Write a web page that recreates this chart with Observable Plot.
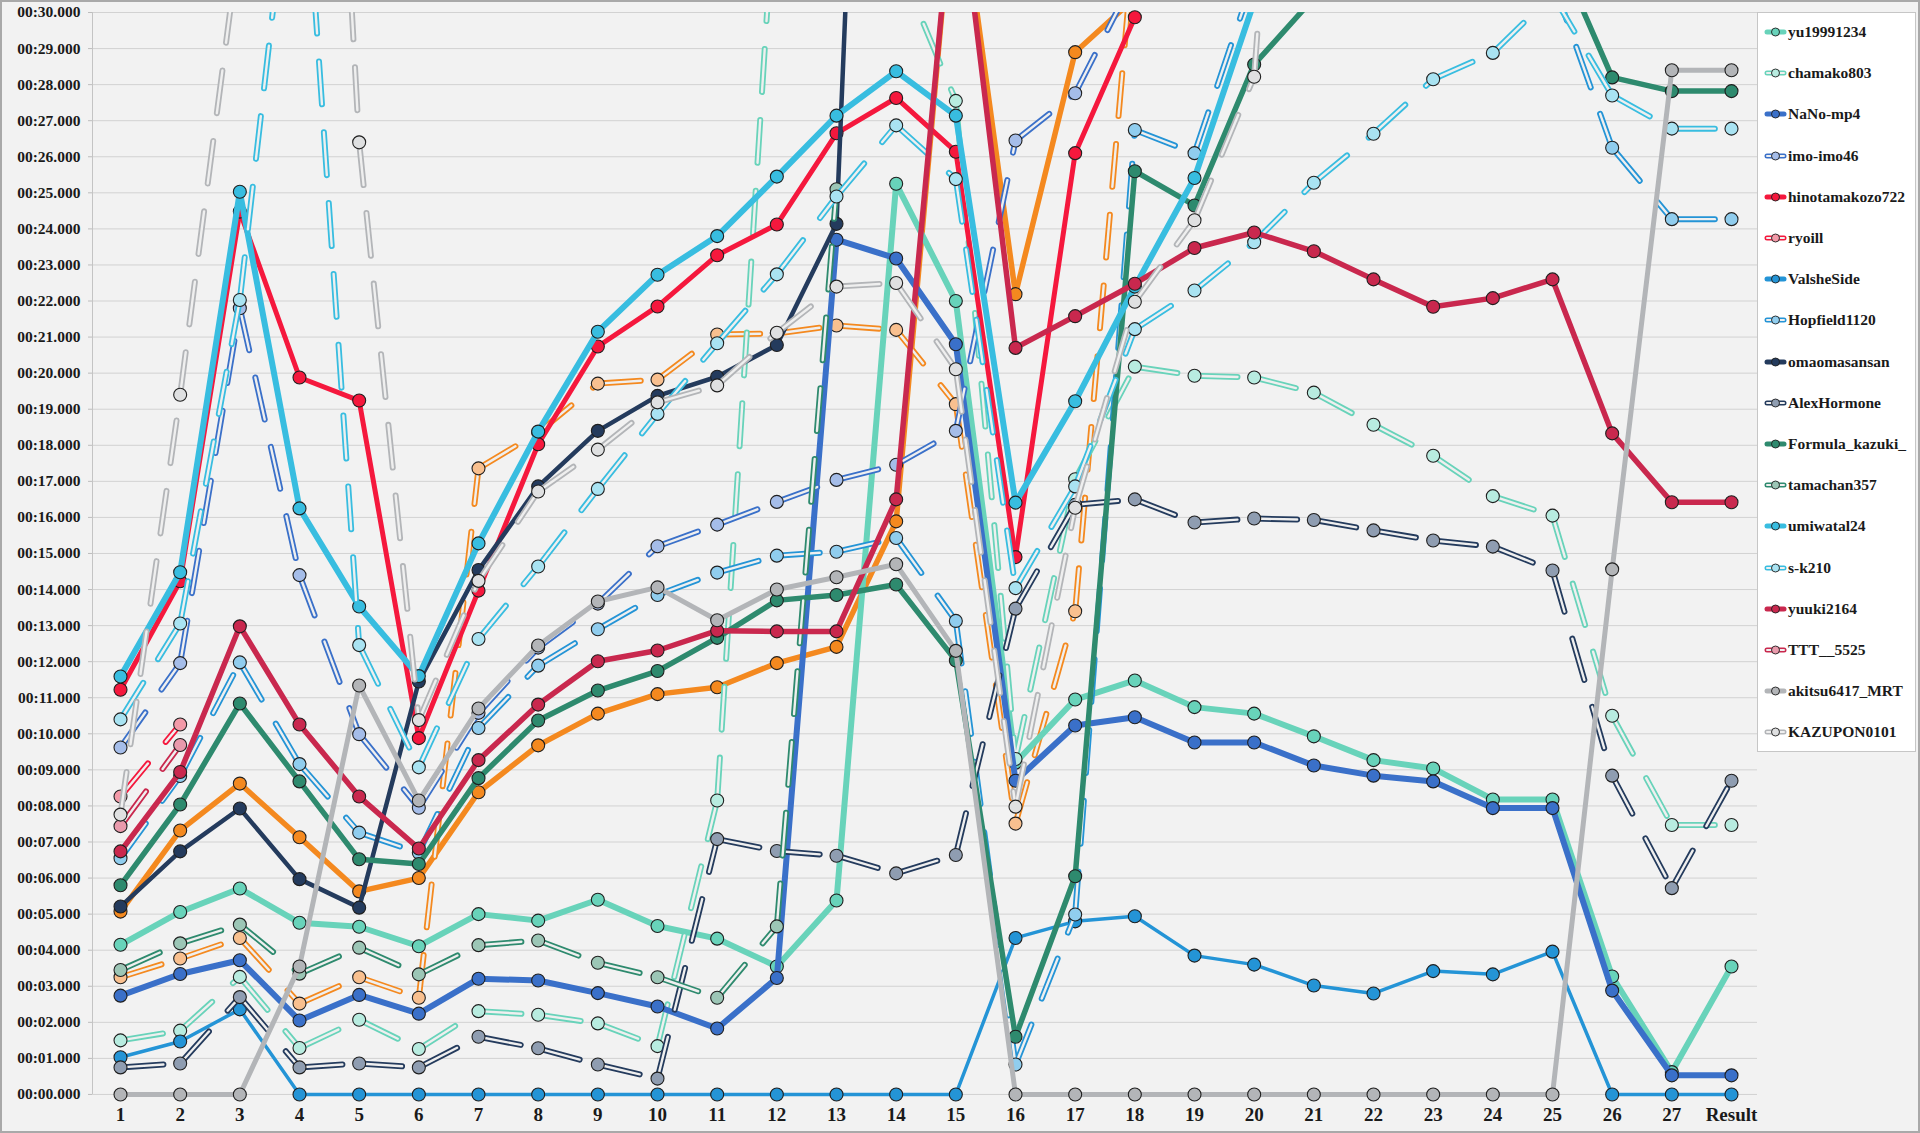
<!DOCTYPE html>
<html><head><meta charset="utf-8">
<script src="https://cdn.jsdelivr.net/npm/d3@7"></script>
<script src="https://cdn.jsdelivr.net/npm/@observablehq/plot@0.6"></script>
<style>
html,body{margin:0;padding:0;background:#f2f2f2;}
#wrap{position:relative;width:1920px;height:1133px;overflow:hidden;background:#f2f2f2;}
#frame{position:absolute;left:0;top:0;width:1920px;height:1133px;box-sizing:border-box;border:2px solid #a9a9a9;pointer-events:none;}
#legend{position:absolute;left:1757px;top:12px;width:159px;height:740px;box-sizing:border-box;background:#ffffff;border:1px solid #c6c6c6;font-family:"Liberation Serif",serif;font-weight:bold;font-size:15.5px;color:#1a1a1a;}
.item{position:absolute;left:5px;height:20px;display:flex;align-items:center;white-space:nowrap;}
g[aria-label="sline"], g[aria-label="hout"]{filter:drop-shadow(1.5px 2px 1.5px rgba(0,0,0,0.22));}
</style></head><body>
<div id="wrap"><div id="chart"></div><div id="legend"></div><div id="frame"></div></div>
<script>
const splits = ["1","2","3","4","5","6","7","8","9","10","11","12","13","14","15","16","17","18","19","20","21","22","23","24","25","26","27","Result"];
const yTicks = [0,1,2,3,4,5,6,7,8,9,10,11,12,13,14,15,16,17,18,19,20,21,22,23,24,25,26,27,28,29,30];

// seconds, per split (values above 30 run off the top of the chart)
const yu19991234      = [4.15,5.06,5.71,4.76,4.65,4.11,5.00,4.82,5.40,4.67,4.32,3.55,5.38,25.25,22.00,9.20,10.95,11.48,10.74,10.56,9.93,9.27,9.04,8.18,8.18,3.27,0.62,3.55];
const chamako803      = [1.50,1.77,3.26,1.29,2.07,1.26,2.31,2.21,1.97,1.34,8.15,34.3,33.0,31.5,27.55,9.30,17.06,20.18,19.93,19.88,19.46,18.57,17.71,16.59,16.05,10.50,7.47,7.47];
const NaNo_mp4        = [2.74,3.34,3.72,2.05,2.76,2.24,3.21,3.16,2.81,2.44,1.83,3.23,23.70,23.18,20.80,8.70,10.23,10.46,9.76,9.76,9.12,8.84,8.68,7.94,7.94,2.88,0.53,0.53];
const imo_imo46       = [9.62,11.96,21.80,14.40,9.99,7.95,10.58,12.39,13.61,15.20,15.80,16.43,17.04,17.46,18.40,26.45,27.76,31.0,38,40,40,40,40,40,40,40,40,40];
const hinotamakozo722 = [11.22,14.23,24.48,19.88,19.24,9.88,13.97,18.03,20.74,21.85,23.27,24.12,26.65,27.63,26.14,14.90,26.10,29.87,36,40,40,40,40,40,40,40,40,40];
const ryoill          = [8.26,10.26,null,null,null,null,null,null,null,null,null,null,null,null,null,null,null,null,null,null,null,null,null,null,null,null,null,null];
const ValsheSide      = [1.03,1.47,2.36,0,0,0,0,0,0,0,0,0,0,0,0,4.34,4.80,4.94,3.85,3.60,3.02,2.80,3.42,3.33,3.96,0,0,0];
const Hopfield1120    = [6.55,8.83,11.98,9.16,7.26,6.70,10.16,11.89,12.90,13.85,14.47,14.94,15.05,15.43,13.13,0.83,4.99,26.74,26.10,31.0,38,40,40,38,30.9,26.25,24.27,24.27];
const omaomasansan    = [5.21,6.74,7.93,5.97,5.18,11.45,14.54,16.86,18.40,19.37,19.90,20.78,24.14,64,64,64,64,64,64,64,64,64,64,64,64,64,64,64];
const AlexHormone     = [0.75,0.86,2.70,0.75,0.86,0.75,1.60,1.28,0.83,0.44,7.08,6.75,6.62,6.13,6.64,13.47,16.35,16.50,15.86,15.97,15.93,15.64,15.36,15.19,14.53,8.84,5.72,8.70];
const Formula_kazuki_ = [5.80,8.04,10.84,8.68,6.52,6.39,8.77,10.37,11.20,11.74,12.66,13.70,13.85,14.14,12.03,1.60,6.05,25.60,24.65,28.56,30.4,33,35,35,32.0,28.20,27.82,27.82];
const tamachan357     = [3.45,4.19,4.71,3.35,4.07,3.33,4.14,4.27,3.65,3.25,2.68,4.66,25.10,null,null,null,null,null,null,null,null,null,null,null,null,null,null,null];
const umiwatal24      = [11.59,14.48,25.03,16.25,13.53,11.60,15.28,18.38,21.15,22.73,23.80,25.45,27.14,28.37,27.14,16.41,19.22,22.40,25.41,30.3,36,40,40,40,40,40,40,40];
const s_k210          = [10.40,13.06,22.03,36.5,12.46,9.07,12.63,14.64,16.79,18.87,20.83,22.74,24.90,26.87,25.38,14.04,16.86,21.22,22.29,23.63,25.28,26.64,28.15,28.88,30.5,27.70,26.78,26.78];
const yuuki2164       = [6.74,8.94,12.98,10.26,8.26,6.82,9.27,10.81,12.01,12.31,12.86,12.84,12.84,16.50,34.3,20.70,21.58,22.48,23.47,23.90,23.38,22.60,21.84,22.08,22.60,18.33,16.42,16.42];
const TTT__5525       = [7.44,9.69,null,null,null,null,null,null,null,null,null,null,null,null,null,null,null,null,null,null,null,null,null,null,null,null,null,null];
const akitsu6417_MRT  = [0,0,0,3.55,11.34,8.15,10.70,12.45,13.67,14.06,13.15,14.00,14.34,14.70,12.30,0,0,0,0,0,0,0,0,0,0,14.56,28.40,28.40];
const KAZUPON0101     = [7.76,19.40,32.1,56,26.40,10.38,14.24,16.72,17.88,19.19,19.66,21.12,22.40,22.50,20.11,7.98,16.27,21.98,24.24,28.22,51,60,60,60,60,60,60,60];
const series19        = [5.07,7.32,8.62,7.13,5.63,6.00,8.38,9.68,10.56,11.10,11.29,11.96,12.41,15.89,34.3,22.19,28.90,30.4,40,40,40,40,40,40,40,40,40,40];
const series20        = [3.25,3.77,4.34,2.52,3.25,2.68,17.36,18.35,19.71,19.82,21.07,21.10,21.32,21.20,19.14,7.51,13.40,32.3,40,40,40,40,40,40,40,40,40,40];

const C = {mint:"#68d3ba", blue:"#3a70c9", red:"#f5183d", valshe:"#2494d6", navy:"#243b5d", green:"#2e8a6e", cyan:"#38bde0", crimson:"#c9284e", gray:"#b3b5b8", orange:"#f4891f"};
const L = {mint:"#b8ece0", blue:"#a5bde9", red:"#f39aa8", valshe:"#90cdee", navy:"#8f9db1", green:"#9cc6b6", cyan:"#a9e3f2", crimson:"#e99aac", gray:"#dfe0e1", orange:"#f9c08f"};

const series = [
  {name:"series19", v:series19, c:C.orange, f:C.orange, hollow:false, w:5.5, legend:false},
  {name:"series20", v:series20, c:C.orange, f:L.orange, hollow:true, legend:false},
  {name:"yu19991234", v:yu19991234, c:C.mint, f:C.mint, hollow:false, w:6},
  {name:"chamako803", v:chamako803, c:C.mint, f:L.mint, hollow:true},
  {name:"NaNo-mp4", v:NaNo_mp4, c:C.blue, f:C.blue, hollow:false, w:6},
  {name:"imo-imo46", v:imo_imo46, c:C.blue, f:L.blue, hollow:true},
  {name:"hinotamakozo722", v:hinotamakozo722, c:C.red, f:C.red, hollow:false, w:5},
  {name:"ryoill", v:ryoill, c:C.red, f:L.red, hollow:true},
  {name:"ValsheSide", v:ValsheSide, c:C.valshe, f:C.valshe, hollow:false, w:3.5},
  {name:"Hopfield1120", v:Hopfield1120, c:C.valshe, f:L.valshe, hollow:true},
  {name:"omaomasansan", v:omaomasansan, c:C.navy, f:C.navy, hollow:false, w:4.5},
  {name:"AlexHormone", v:AlexHormone, c:C.navy, f:L.navy, hollow:true},
  {name:"Formula_kazuki_", v:Formula_kazuki_, c:C.green, f:C.green, hollow:false, w:5.5},
  {name:"tamachan357", v:tamachan357, c:C.green, f:L.green, hollow:true},
  {name:"umiwatal24", v:umiwatal24, c:C.cyan, f:C.cyan, hollow:false, w:6},
  {name:"s-k210", v:s_k210, c:C.cyan, f:L.cyan, hollow:true},
  {name:"yuuki2164", v:yuuki2164, c:C.crimson, f:C.crimson, hollow:false, w:5.5},
  {name:"TTT__5525", v:TTT__5525, c:C.crimson, f:L.crimson, hollow:true},
  {name:"akitsu6417_MRT", v:akitsu6417_MRT, c:C.gray, f:C.gray, hollow:false, w:5},
  {name:"KAZUPON0101", v:KAZUPON0101, c:C.gray, f:L.gray, hollow:true}
];

const rows = v => splits.map((s,i)=>({x:s, y:v[i]}));
const segs = v => { const o=[]; for(let i=0;i<v.length-1;i++){ if(v[i]!=null && v[i+1]!=null) o.push({x1:splits[i],y1:v[i],x2:splits[i+1],y2:v[i+1]}); } return o; };
const yFmt = d => "00:" + String(d).padStart(2,"0") + ".000";
const DASH = "43,28";

const marks = [
  Plot.ruleY(yTicks, {y:d=>d, stroke:"#d2d2d2", strokeWidth:1}),
  Plot.ruleX([splits[0]], {x:d=>d, y1:0, y2:30, dx:-28, stroke:"#c4c4c4", strokeWidth:1}),
  Plot.axisY({ticks:yTicks, tickFormat:yFmt, tickSize:4, tickPadding:8, fontSize:15.5, stroke:"#bdbdbd", fill:"#1a1a1a", label:null}),
  Plot.text(splits, {x:d=>d, y:()=>0, dy:20, text:d=>d, fontSize:19, fontWeight:"bold", fill:"#1a1a1a"})
];

for (const s of series) {
  const r = rows(s.v);
  const sg = segs(s.v);
  if (s.hollow) {
    marks.push(Plot.link(sg, {x1:"x1",y1:"y1",x2:"x2",y2:"y2", stroke:s.c, strokeWidth:6, strokeDasharray:DASH, strokeLinecap:"round", clip:true, ariaLabel:"hout"}));
    marks.push(Plot.link(sg, {x1:"x1",y1:"y1",x2:"x2",y2:"y2", stroke:"#efefef", strokeWidth:2.4, strokeDasharray:DASH, strokeLinecap:"round", clip:true, ariaLabel:"hin"}));
  } else {
    marks.push(Plot.link(sg, {x1:"x1",y1:"y1",x2:"x2",y2:"y2", stroke:s.c, strokeWidth:s.w, strokeLinecap:"round", clip:true, ariaLabel:"sline"}));
  }
  marks.push(Plot.dot(r.filter(d=>d.y!=null && d.y<=30.2), {x:"x", y:"y", r:6.5, fill:s.f, stroke:"#1f1f1f", strokeWidth:1.1}));
}

const chart = Plot.plot({
  width:1920, height:1133,
  marginLeft:92, marginRight:163, marginTop:12, marginBottom:17,
  x:{type:"point", domain:splits, range:[120,1731], padding:0, round:false, axis:null},
  y:{domain:[-0.6,30], range:[1115.6,12], axis:null},
  style:{fontFamily:"'Liberation Serif', serif", fontWeight:"bold", background:"#f2f2f2", color:"#1a1a1a", overflow:"visible"},
  marks
});
document.getElementById("chart").appendChild(chart);

// legend
const leg = d3.select("#legend");
series.filter(s=>s.legend!==false).forEach((s,i)=>{
  const item = leg.append("div").attr("class","item").style("top",(19+i*41.2-10)+"px");
  const svg = item.append("svg").attr("width",25).attr("height",14);
  svg.append("line").attr("x1",4).attr("x2",21).attr("y1",7).attr("y2",7).attr("stroke",s.c).attr("stroke-width",5).attr("stroke-linecap","round");
  if (s.hollow) {
    svg.append("line").attr("x1",4).attr("x2",21).attr("y1",7).attr("y2",7).attr("stroke","#efefef").attr("stroke-width",2).attr("stroke-linecap","round");
  }
  svg.append("circle").attr("cx",12.5).attr("cy",7).attr("r",4).attr("fill",s.f).attr("stroke","#1f1f1f").attr("stroke-width",0.9);
  item.append("span").text(s.name);
});
</script></body></html>
